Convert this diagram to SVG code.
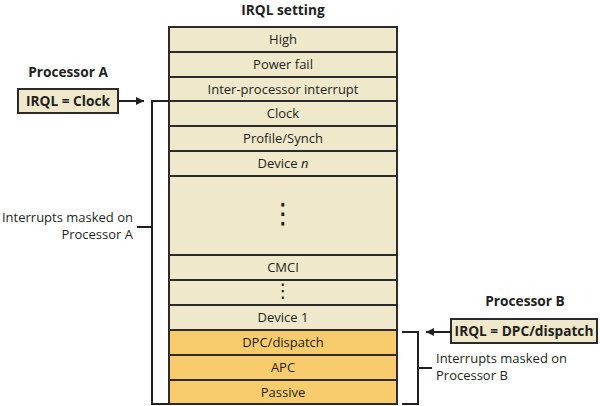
<svg xmlns="http://www.w3.org/2000/svg" width="600" height="406" viewBox="0 0 600 406">
<defs>
<style>
text{font-family:"Open Sans","Noto Sans",sans-serif;fill:#231f20;font-size:13px}
.b{font-weight:bold;font-size:13.7px}
.c{text-anchor:middle}
.cell{fill:#efe8ca;stroke:#2b2b2b;stroke-width:2}
.o{fill:#f8cb6c}
.box{fill:#efe8ca;stroke:#2b2b2b;stroke-width:2}
.ln{fill:none;stroke:#231f20;stroke-width:2}
.dot{font-family:"DejaVu Sans",sans-serif}
.d1{font-size:28px}
.d2{font-size:19px}
</style>
<marker id="ah" viewBox="0 0 10 10" refX="10" refY="5" markerWidth="4" markerHeight="4" orient="auto">
<path d="M0,0 L10,5 L0,10 z" fill="#231f20"/>
</marker>
</defs>
<rect width="600" height="406" fill="#fff"/>
<text class="b c" x="283" y="15">IRQL setting</text>
<g id="irql-high"><rect class="cell" x="169" y="27" width="228" height="25"/><text class="c" x="283" y="44">High</text></g>
<g id="irql-powerfail"><rect class="cell" x="169" y="52" width="228" height="25"/><text class="c" x="283" y="69">Power fail</text></g>
<g id="irql-ipi"><rect class="cell" x="169" y="77" width="228" height="24"/><text class="c" x="283" y="94">Inter-processor interrupt</text></g>
<g id="irql-clock"><rect class="cell" x="169" y="101" width="228" height="25"/><text class="c" x="283" y="118">Clock</text></g>
<g id="irql-profile"><rect class="cell" x="169" y="126" width="228" height="25"/><text class="c" x="283" y="143">Profile/Synch</text></g>
<g id="irql-devicen"><rect class="cell" x="169" y="151" width="228" height="25"/><text class="c" x="283" y="168">Device <tspan font-style="italic">n</tspan></text></g>
<g id="irql-gap1"><rect class="cell" x="169" y="176" width="228" height="79"/><text class="c dot d1" x="283" y="223">⋮</text></g>
<g id="irql-cmci"><rect class="cell" x="169" y="255" width="228" height="25"/><text class="c" x="283" y="272">CMCI</text></g>
<g id="irql-gap2"><rect class="cell" x="169" y="280" width="228" height="25"/><text class="c dot d2" x="283" y="297">⋮</text></g>
<g id="irql-device1"><rect class="cell" x="169" y="305" width="228" height="25"/><text class="c" x="283" y="322">Device 1</text></g>
<g id="irql-dpc"><rect class="cell o" x="169" y="330" width="228" height="25"/><text class="c" x="283" y="347">DPC/dispatch</text></g>
<g id="irql-apc"><rect class="cell o" x="169" y="355" width="228" height="25"/><text class="c" x="283" y="372">APC</text></g>
<g id="irql-passive"><rect class="cell o" x="169" y="380" width="228" height="24"/><text class="c" x="283" y="397">Passive</text></g>

<g id="processor-a">
<text class="b c" x="68" y="77">Processor A</text>
<rect class="box" x="18" y="89" width="100" height="24"/>
<text class="b c" x="68" y="106">IRQL = Clock</text>
</g>
<g id="processor-b">
<text class="b c" x="525" y="306">Processor B</text>
<rect class="box" x="451" y="319" width="146" height="24"/>
<text class="b c" x="524" y="336">IRQL = DPC/dispatch</text>
</g>
<g id="label-a"><text text-anchor="end" x="133" y="222">Interrupts masked on</text><text text-anchor="end" x="133" y="239">Processor A</text></g>
<g id="label-b"><text x="436" y="363">Interrupts masked on</text><text x="436" y="380">Processor B</text></g>

<g id="connectors">
<line class="ln" x1="118" y1="101" x2="144" y2="101" marker-end="url(#ah)"/>
<path class="ln" d="M169,101 H152 V404 H169"/>
<line class="ln" x1="137" y1="227" x2="152" y2="227"/>
<line class="ln" x1="451" y1="332" x2="426" y2="332" marker-end="url(#ah)"/>
<path class="ln" d="M402,332 H418 V404 H402"/>
<line class="ln" x1="418" y1="368" x2="432" y2="368"/>
</g>
</svg>
